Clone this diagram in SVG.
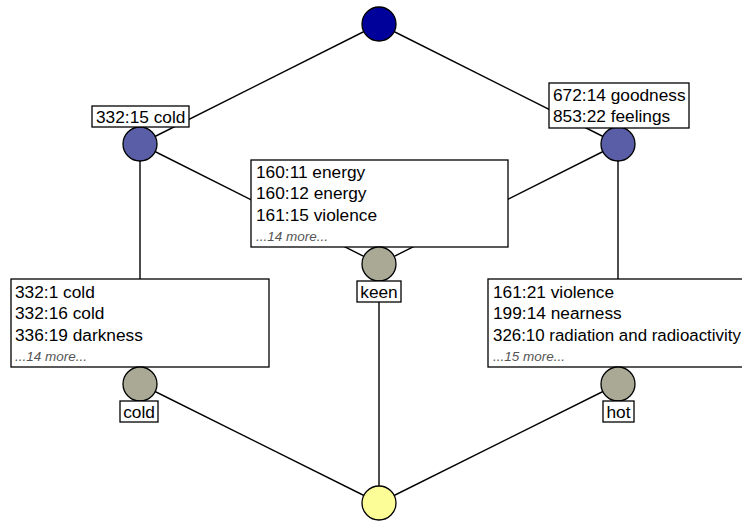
<svg xmlns="http://www.w3.org/2000/svg" width="742" height="522" viewBox="0 0 742 522">
<style>
.e{stroke:#000;stroke-width:1.4;fill:none}
.b{fill:#fff;stroke:#000;stroke-width:1.3}
.n{stroke:#000;stroke-width:1.3}
.t{font-family:"Liberation Sans",Arial,sans-serif;font-size:17.3px;fill:#000}
.m{font-family:"Liberation Sans",Arial,sans-serif;font-size:13.5px;font-style:italic;fill:#555}
</style>
<rect width="742" height="522" fill="#fff"/>
<g id="connectors">
<line class="e" x1="379" y1="24" x2="140" y2="144"/>
<line class="e" x1="379" y1="24" x2="618" y2="144"/>
<line class="e" x1="140" y1="144" x2="379" y2="264"/>
<line class="e" x1="618" y1="144" x2="379" y2="264"/>
<line class="e" x1="140" y1="144" x2="140" y2="384"/>
<line class="e" x1="618" y1="144" x2="618" y2="384"/>
<line class="e" x1="140" y1="384" x2="379" y2="503"/>
<line class="e" x1="618" y1="384" x2="379" y2="503"/>
<line class="e" x1="379" y1="264" x2="379" y2="503"/>
</g>
<g id="top">
<circle class="n" cx="379" cy="24" r="17" fill="#00009a"/>
</g>
<g id="n-cold-upper">
<circle class="n" cx="140" cy="144" r="17" fill="#5a5ea6"/>
<rect class="b" x="92" y="106" width="97" height="21"/>
<text class="t" x="96" y="123">332:15 cold</text>
</g>
<g id="n-goodness">
<circle class="n" cx="618" cy="144" r="17" fill="#5a5ea6"/>
<rect class="b" x="549" y="83" width="140" height="45"/>
<text class="t" x="553" y="101">672:14 goodness</text>
<text class="t" x="553" y="122">853:22 feelings</text>
</g>
<g id="n-keen">
<rect class="b" x="251" y="160" width="257" height="87"/>
<text class="t" x="256" y="178">160:11 energy</text>
<text class="t" x="256" y="199">160:12 energy</text>
<text class="t" x="256" y="221">161:15 violence</text>
<text class="m" x="256" y="241">...14 more...</text>
<circle class="n" cx="379" cy="264" r="17" fill="#a9a996"/>
<rect class="b" x="357" y="281" width="44" height="21"/>
<text class="t" x="379" y="298" text-anchor="middle">keen</text>
</g>
<g id="n-cold">
<rect class="b" x="11" y="279" width="258" height="88"/>
<text class="t" x="15" y="298">332:1 cold</text>
<text class="t" x="15" y="319">332:16 cold</text>
<text class="t" x="15" y="341">336:19 darkness</text>
<text class="m" x="15" y="361">...14 more...</text>
<circle class="n" cx="140" cy="384" r="17" fill="#a9a996"/>
<rect class="b" x="120" y="401" width="38" height="21"/>
<text class="t" x="139" y="418" text-anchor="middle">cold</text>
</g>
<g id="n-hot">
<rect class="b" x="488" y="279" width="270" height="88"/>
<text class="t" x="493" y="298">161:21 violence</text>
<text class="t" x="493" y="319">199:14 nearness</text>
<text class="t" x="493" y="341" style="font-size:16.9px">326:10 radiation and radioactivity</text>
<text class="m" x="493" y="361">...15 more...</text>
<circle class="n" cx="618" cy="384" r="17" fill="#a9a996"/>
<rect class="b" x="603" y="401" width="31" height="21"/>
<text class="t" x="618.5" y="418" text-anchor="middle">hot</text>
</g>
<g id="bottom">
<circle class="n" cx="379" cy="503" r="17" fill="#fdfd98"/>
</g>
</svg>
